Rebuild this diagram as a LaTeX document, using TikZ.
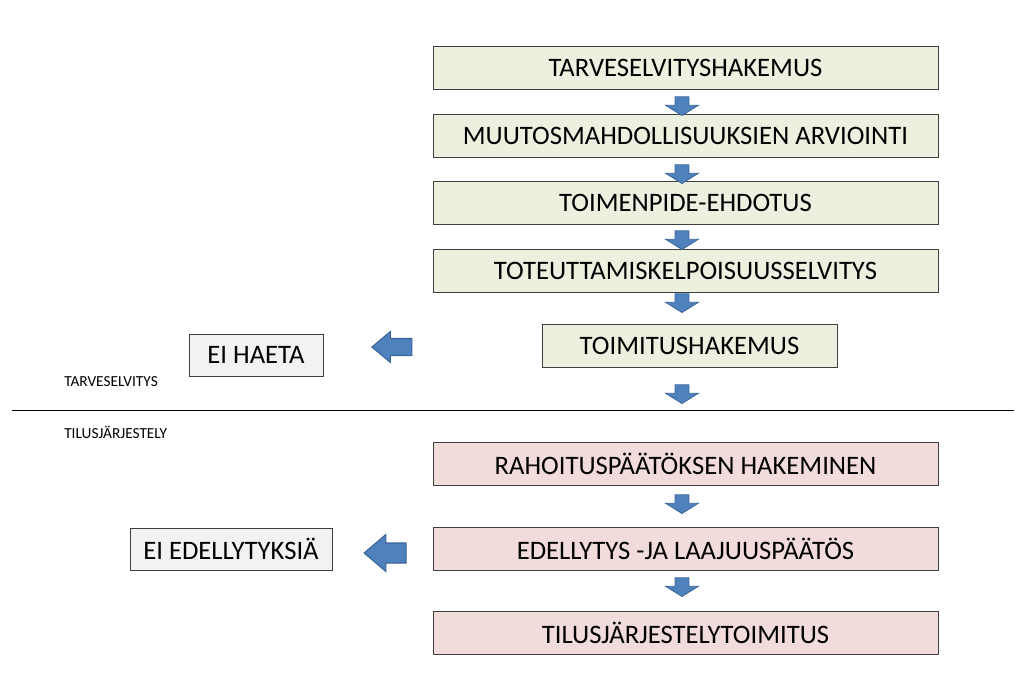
\documentclass[tikz,border=0pt]{standalone}
\usepackage{fontspec}
\setmainfont{Carlito}
\usetikzlibrary{shapes.arrows, positioning, calc}
\definecolor{prepfill}{HTML}{EBF1DE}
\definecolor{mainfill}{HTML}{F2DCDB}
\definecolor{stopfill}{HTML}{F2F2F2}
\definecolor{blockblue}{HTML}{4F81BD}
\definecolor{blockedge}{HTML}{3A659A}

\begin{document}
\begin{tikzpicture}[
	x=0.75pt, y=-0.75pt,
	every node/.style={font=\fontsize{20}{24}\selectfont},
	phase/.style={rectangle, draw=black!75, line width=0.6pt, fill=prepfill, minimum width=378.75pt, minimum height=32.25pt, inner sep=0pt},
	stopbox/.style={rectangle, draw=black!75, line width=0.6pt, fill=stopfill, minimum height=31.5pt, inner sep=0pt},
	downarrow/.style={single arrow, draw=blockedge, line width=0.6pt, fill=blockblue, shape border rotate=270, minimum width=24pt, minimum height=14pt, single arrow head extend=7.1pt, single arrow tip angle=116, inner sep=4.9pt},
	leftarrow/.style={single arrow, draw=blockedge, line width=0.8pt, fill=blockblue, shape border rotate=180, minimum width=22.5pt, minimum height=30pt, single arrow head extend=5.25pt, single arrow tip angle=80, inner sep=6pt},
	stage/.style={font=\fontsize{11.5}{13}\selectfont, anchor=west, inner sep=0pt}
]
\useasboundingbox (0,0) rectangle (1022,678);

% Tarveselvitys phase
\node[phase] (tarve) at (685.5,68) {TARVESELVITYSHAKEMUS};
\node[phase] (muutos) at (685.5,135.5) {MUUTOSMAHDOLLISUUKSIEN ARVIOINTI};
\node[phase] (ehdotus) at (685.5,202.5) {TOIMENPIDE-EHDOTUS};
\node[phase] (toteutus) at (685.5,270.5) {TOTEUTTAMISKELPOISUUSSELVITYS};
\node[phase, minimum width=221.25pt] (toimhak) at (689.5,345.5) {TOIMITUSHAKEMUS};
\node[stopbox, minimum width=100.5pt] (eihaeta) at (256,355) {EI HAETA};

% Tilusjarjestely phase
\node[phase, fill=mainfill] (rahoitus) at (685.5,463.5) {RAHOITUSPÄÄTÖKSEN HAKEMINEN};
\node[phase, fill=mainfill] (edell) at (685.5,548.5) {EDELLYTYS -JA LAAJUUSPÄÄTÖS};
\node[phase, fill=mainfill] (toimitus) at (685.5,632.5) {TILUSJÄRJESTELYTOIMITUS};
\node[stopbox, minimum width=151.5pt] (eiedell) at (231,549) {EI EDELLYTYKSIÄ};

% Divider and stage labels
\coordinate (divl) at (12,410);
\coordinate (divr) at (1014,410);
\draw[line width=0.6pt] (divl) -- (divr);
\node[stage] (lbltarve) at (64,382) {TARVESELVITYS};
\node[stage] (lbltilus) at (64,432) {TILUSJÄRJESTELY};

% Block arrows
\node[downarrow] (ar1) at (682,104) {};
\node[downarrow] (ar2) at (682,172) {};
\node[downarrow] (ar3) at (682,238) {};
\node[downarrow] (ar4) at (682,301) {};
\node[downarrow] (ar5) at (682,392) {};
\node[downarrow] (ar6) at (682,502) {};
\node[downarrow] (ar7) at (682,585) {};
\node[leftarrow] (arl1) at (397,347) {};
\node[leftarrow, minimum width=27pt, minimum height=31.5pt, single arrow head extend=6.4pt, single arrow tip angle=81, inner sep=7.1pt] (arl2) at (391,553) {};

\end{tikzpicture}
\end{document}
